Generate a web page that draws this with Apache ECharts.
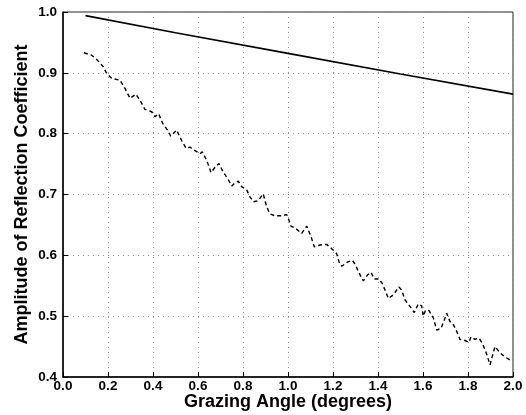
<!DOCTYPE html>
<html>
<head>
<meta charset="utf-8">
<script src="https://cdn.jsdelivr.net/npm/echarts@6/dist/echarts.min.js"></script>
<style>
  html, body { margin: 0; padding: 0; background: #fff; }
  #chart { width: 526px; height: 415px; }
</style>
</head>
<body>
<div id="chart"></div>
<script>
// smooth (solid) curve
const smoothX = [0.1, 0.5, 1.0, 1.5, 2.0];
const smoothY = [0.994, 0.966, 0.932, 0.898, 0.865];

// rough (dashed) curve
const roughX = [0.093, 0.127, 0.150, 0.179, 0.194, 0.216, 0.253, 0.276, 0.298, 0.324, 0.342, 0.364,
  0.394, 0.409, 0.425, 0.443, 0.464, 0.479, 0.505, 0.527, 0.547, 0.564, 0.587, 0.609, 0.619,
  0.639, 0.658, 0.676, 0.693, 0.712, 0.732, 0.750, 0.764, 0.779, 0.794, 0.816, 0.831, 0.846,
  0.868, 0.890, 0.905, 0.920, 0.942, 0.972, 0.994, 1.004, 1.013, 1.035, 1.061, 1.083, 1.102,
  1.117, 1.142, 1.172, 1.194, 1.216, 1.227, 1.239, 1.265, 1.286, 1.301, 1.313, 1.335, 1.354,
  1.369, 1.384, 1.404, 1.419, 1.431, 1.446, 1.468, 1.493, 1.505, 1.520, 1.542, 1.561, 1.579,
  1.594, 1.601, 1.612, 1.627, 1.646, 1.661, 1.680, 1.695, 1.705, 1.720, 1.735, 1.750, 1.764,
  1.787, 1.804, 1.813, 1.831, 1.849, 1.864, 1.879, 1.898, 1.908, 1.920, 1.942, 1.964, 1.987];
const roughY = [0.933, 0.929, 0.922, 0.910, 0.899, 0.891, 0.888, 0.874, 0.858, 0.865, 0.855, 0.840,
  0.836, 0.828, 0.833, 0.817, 0.806, 0.796, 0.806, 0.789, 0.776, 0.778, 0.772, 0.767, 0.770,
  0.756, 0.736, 0.745, 0.751, 0.737, 0.726, 0.714, 0.719, 0.722, 0.713, 0.708, 0.696, 0.688,
  0.690, 0.701, 0.680, 0.668, 0.665, 0.665, 0.667, 0.658, 0.648, 0.644, 0.636, 0.648, 0.631,
  0.614, 0.617, 0.618, 0.611, 0.603, 0.589, 0.582, 0.589, 0.592, 0.584, 0.573, 0.558, 0.568,
  0.572, 0.561, 0.561, 0.554, 0.543, 0.529, 0.535, 0.548, 0.543, 0.527, 0.516, 0.506, 0.520,
  0.517, 0.500, 0.510, 0.509, 0.497, 0.477, 0.480, 0.494, 0.505, 0.491, 0.486, 0.475, 0.462,
  0.460, 0.457, 0.466, 0.462, 0.464, 0.455, 0.442, 0.420, 0.434, 0.450, 0.440, 0.433, 0.428];

const zip = (xs, ys) => xs.map((x, i) => [x, ys[i]]);

const chart = echarts.init(document.getElementById("chart"));
const labelFont = {
  color: "#000",
  fontFamily: "Liberation Sans",
  fontSize: 13.5,
  fontWeight: "bold",
};
const nameFont = {
  color: "#000",
  fontFamily: "Liberation Sans",
  fontSize: 18,
  fontWeight: "bold",
};
const gridLine = {
  show: true,
  lineStyle: { color: "#999", type: [1, 4], width: 1 },
};

chart.setOption({
  animation: false,
  grid: {
    left: 63,
    right: 13,
    top: 12,
    bottom: 38,
    outerBoundsMode: "none",
    show: true,
    borderColor: "#222",
    borderWidth: 1,
  },
  xAxis: {
    type: "value",
    min: 0,
    max: 2,
    interval: 0.2,
    name: "Grazing Angle (degrees)",
    nameLocation: "middle",
    nameGap: 16,
    nameMoveOverlap: false,
    nameTextStyle: nameFont,
    axisLine: { lineStyle: { color: "#000", width: 1.5 } },
    axisTick: { inside: true, length: 5, lineStyle: { color: "#000" } },
    axisLabel: Object.assign({ margin: 2, formatter: (v) => v.toFixed(1) }, labelFont),
    splitLine: gridLine,
  },
  yAxis: {
    type: "value",
    min: 0.4,
    max: 1.0,
    interval: 0.1,
    name: "Amplitude of Reflection Coefficient",
    nameLocation: "middle",
    nameGap: 32,
    nameMoveOverlap: false,
    nameTextStyle: nameFont,
    axisLine: { lineStyle: { color: "#000", width: 1.5 } },
    axisTick: { inside: true, length: 5, lineStyle: { color: "#000" } },
    axisLabel: Object.assign({ margin: 6, formatter: (v) => v.toFixed(1) }, labelFont),
    splitLine: gridLine,
  },
  series: [
    {
      type: "line",
      data: zip(smoothX, smoothY),
      showSymbol: false,
      lineStyle: { color: "#000", width: 1.6 },
    },
    {
      type: "line",
      data: zip(roughX, roughY),
      showSymbol: false,
      lineStyle: { color: "#000", width: 1.4, type: [4, 3] },
    },
  ],
});
</script>
</body>
</html>
